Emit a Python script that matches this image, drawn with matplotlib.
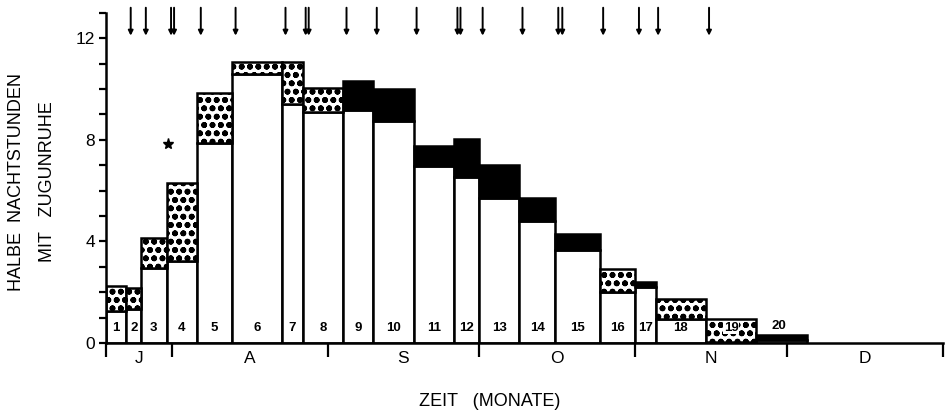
import numpy as np
import matplotlib.pyplot as plt

plt.rcParams['font.family'] = ['Liberation Sans', 'DejaVu Sans']
plt.rcParams['hatch.linewidth'] = 1.8

# x in days from the start of the axis (mid July); month boundaries
month_edges = [0, 13, 44, 74, 105, 135, 166]
month_labels = ["J", "A", "S", "O", "N", "D"]

# bar edges (days) for the 20 periods
bar_edges = [0, 4, 7, 12, 18, 25, 35, 39, 47, 53, 61, 69, 74, 82, 89, 98, 105, 109, 119, 129, 139]
bar_numbers = list(range(1, 21))
# white (lower) part and total height
white_part = [1.25, 1.34, 2.95, 3.23, 7.87, 10.6, 9.4, 9.1, 9.17, 8.74,
              6.97, 6.54, 5.7, 4.8, 3.66, 2.0, 2.2, 0.94, 0.05, 0.12]
total = [2.25, 2.17, 4.13, 6.3, 9.84, 11.06, 11.08, 10.04, 10.3, 10.0,
         7.76, 8.03, 7.0, 5.7, 4.3, 2.9, 2.4, 1.73, 0.94, 0.3]
# top segment style: 's' = stippled, 'b' = black
top_kind = ['s', 's', 's', 's', 's', 's', 's', 's', 'b', 'b',
            'b', 'b', 'b', 'b', 'b', 's', 'b', 's', 's', 'b']

# arrows at the top (days)
arrows = [4.9, 7.9, 12.9, 13.5, 18.8, 25.7, 35.6, 39.6, 40.2, 47.7, 53.7,
          61.6, 69.7, 70.3, 74.7, 82.6, 89.7, 90.5, 98.6, 105.7, 109.5, 119.6]
star = (12.3, 7.83)

fig = plt.figure(figsize=(9.52, 4.13), dpi=100)
ax = fig.add_axes([106 / 952, 1 - 343 / 413, 837 / 952, (343 - 12.8) / 413])

left = np.array(bar_edges[:-1])
width = np.diff(bar_edges)
white_part = np.array(white_part)
total = np.array(total)

ax.bar(left, white_part, width=width, align='edge', color='white',
       edgecolor='black', linewidth=1.8, zorder=2)
for i in range(len(left)):
    if top_kind[i] == 's':
        ax.bar(left[i], total[i] - white_part[i], width=width[i], bottom=white_part[i],
               align='edge', color='white', edgecolor='black', hatch='oo',
               linewidth=1.8, zorder=2)
    else:
        ax.bar(left[i], total[i] - white_part[i], width=width[i], bottom=white_part[i],
               align='edge', color='black', edgecolor='black', linewidth=1.8, zorder=2)

# bar numbers
for i, n in enumerate(bar_numbers):
    cx = left[i] + width[i] / 2
    if n == 20:
        ax.text(cx - 0.5, 0.65, str(n), ha='center', va='center', fontsize=9.5,
                fontweight='bold', zorder=4)
    elif n == 19:
        ax.text(cx, 0.6, str(n), ha='center', va='center', fontsize=9.5,
                fontweight='bold', zorder=4,
                bbox=dict(facecolor='white', edgecolor='none', pad=0.3))
    else:
        ax.text(cx, 0.6, str(n), ha='center', va='center', fontsize=9.5,
                fontweight='bold', zorder=4)

# arrows
for a in arrows:
    ax.annotate('', xy=(a, 12.1), xytext=(a, 13.2), annotation_clip=False,
                arrowprops=dict(arrowstyle='-|>', color='black', lw=1.4,
                                mutation_scale=7, shrinkA=0, shrinkB=0))

ax.plot(star[0], star[1], marker='*', color='black', markersize=8, zorder=5)

ax.set_xlim(month_edges[0], month_edges[-1])
ax.set_ylim(0, 13)
for s in ['top', 'right']:
    ax.spines[s].set_visible(False)
ax.spines['left'].set_linewidth(1.8)
ax.spines['bottom'].set_linewidth(1.8)
ax.spines['left'].set_bounds(0, 13)

ax.set_yticks([0, 4, 8, 12])
ax.set_yticks(range(0, 14), minor=True)
ax.tick_params(axis='y', which='both', direction='out', length=5, width=1.6,
               labelsize=12.5, pad=3)

ax.set_xticks(month_edges)
ax.set_xticklabels([])
centers = [(month_edges[i] + month_edges[i + 1]) / 2 for i in range(len(month_labels))]
ax.set_xticks(centers, month_labels, minor=True)
ax.tick_params(axis='x', which='major', direction='out', length=10, width=1.6)
ax.tick_params(axis='x', which='minor', length=0, labelsize=12.5, pad=6)

fig.text(17 / 952, 1 - 182 / 413, "HALBE  NACHTSTUNDEN", rotation=90,
         ha='center', va='center', fontsize=13)
fig.text(48 / 952, 1 - 182 / 413, "MIT   ZUGUNRUHE", rotation=90,
         ha='center', va='center', fontsize=13)
fig.text(490 / 952, 1 - 402 / 413, "ZEIT   (MONATE)", ha='center', va='center',
         fontsize=13)

fig.savefig('out.png', dpi=100)
